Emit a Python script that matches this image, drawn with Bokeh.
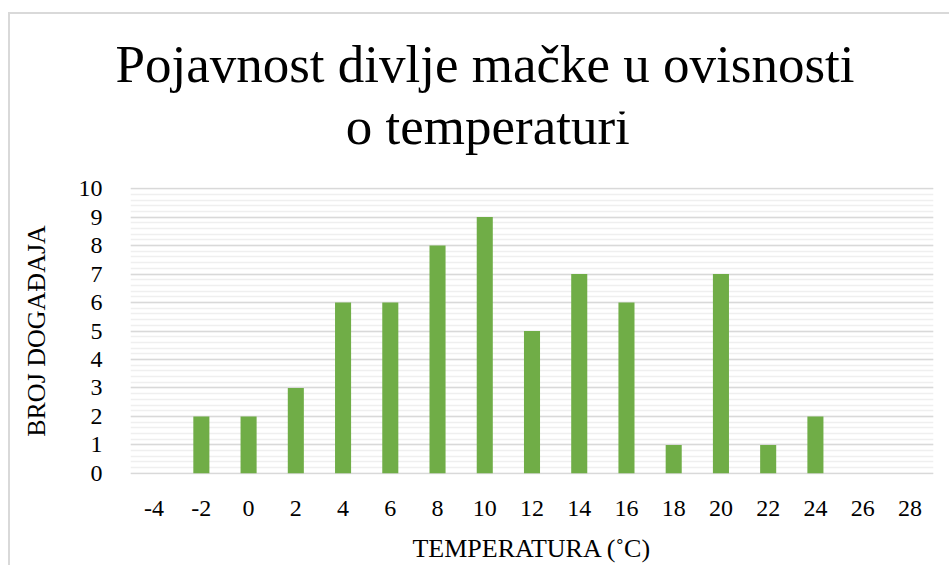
from bokeh.plotting import figure
from bokeh.models import Range1d, FactorRange, SingleIntervalTicker, ColumnDataSource, Title
from bokeh.layouts import column
from bokeh.core.properties import value
from bokeh.embed import file_html
from bokeh.resources import INLINE

temperatures = ["-4", "-2", "0", "2", "4", "6", "8", "10", "12", "14", "16", "18", "20", "22", "24", "26", "28"]
counts = [0, 2, 2, 3, 6, 6, 8, 9, 5, 7, 6, 1, 7, 1, 2, 0, 0]
title_lines = ["Pojavnost divlje mačke u ovisnosti", "o temperaturi"]
x_label = "TEMPERATURA (˚C)"
y_label = "BROJ DOGAĐAJA"

FONT = "Liberation Serif"
BAR = "#70AD47"

# ---- title panel (its frame is aligned with the chart frame by the column layout) ----
t = figure(width=939, height=159, x_range=Range1d(0, 1), y_range=Range1d(0, 1),
           x_axis_type=None, y_axis_type=None, output_backend="svg", toolbar_location=None,
           min_border=0)
t.outline_line_color = None
t.grid.grid_line_color = None
t.background_fill_color = "white"
t.border_fill_color = "white"
# first title line as an (unclipped) Title annotation
t.add_layout(Title(text=title_lines[0], align="left", offset=-15, standoff=37.4,
                   text_font=FONT, text_font_size="53px", text_font_style="normal",
                   text_color="black"), "above")
# second title line as text inside the panel frame
tsrc = ColumnDataSource(data=dict(x=[0.445], y=[0.305], text=[title_lines[1]]))
t.text(x="x", y="y", text="text", source=tsrc, text_align="center", text_baseline="bottom",
       text_font=value(FONT), text_font_size=value("53px"), text_color="black")

# ---- chart ----
src = ColumnDataSource(data=dict(t=temperatures, c=counts))

p = figure(
    x_range=FactorRange(factors=temperatures, range_padding=0),
    y_range=Range1d(-0.04, 10.04),
    frame_width=803, frame_height=287,
    width=939, height=402,
    min_border_left=120, min_border_right=16, min_border_top=14, min_border_bottom=60,
    output_backend="svg", toolbar_location=None,
)
p.outline_line_color = None
p.background_fill_color = "white"
p.border_fill_color = "white"

p.vbar(x="t", top="c", width=0.34, source=src, fill_color=BAR, line_color=None)

p.xgrid.grid_line_color = None
ticker = SingleIntervalTicker(interval=1, num_minor_ticks=5)
p.yaxis.ticker = ticker
p.ygrid.ticker = ticker
p.ygrid.grid_line_color = "#d9d9d9"
p.ygrid.grid_line_width = 1.6
p.ygrid.minor_grid_line_color = "#efefef"
p.ygrid.minor_grid_line_width = 1.5

for ax in (p.xaxis, p.yaxis):
    ax.axis_line_color = None
    ax.major_tick_line_color = None
    ax.minor_tick_line_color = None
    ax.major_label_text_font = FONT
    ax.major_label_text_font_size = "24px"
    ax.major_label_text_color = "black"
    ax.axis_label_text_font = FONT
    ax.axis_label_text_font_size = "26px"
    ax.axis_label_text_font_style = "normal"
    ax.axis_label_text_color = "black"

p.xaxis.axis_label = x_label
p.yaxis.axis_label = y_label
p.xaxis.major_label_standoff = 20
p.xaxis.axis_label_standoff = 15
p.yaxis.major_label_standoff = 22
p.yaxis.axis_label_standoff = 25

layout = column(t, p, spacing=0,
                styles={"border-left": "2px solid #d9d9d9", "border-top": "2px solid #d9d9d9",
                        "margin-top": "12px", "margin-left": "8px"})

open("out.html", "w").write(file_html(layout, INLINE))
